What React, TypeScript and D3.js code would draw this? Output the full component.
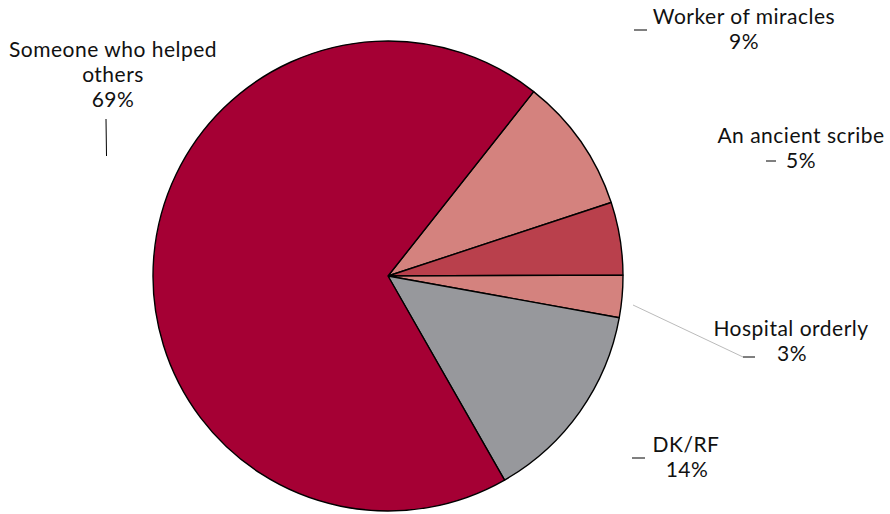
import React from "react";
import * as d3 from "d3";

const categories = ["Worker of miracles", "An ancient scribe", "Hospital orderly", "DK/RF", "Someone who helped others"];
const values = [9.3, 5.0, 2.9, 13.9, 68.9];
const percentLabels = ["9%", "5%", "3%", "14%", "69%"];
const colors = ["#d4827e", "#b9404c", "#d4827e", "#97989c", "#a50034"];

const W = 890;
const H = 514;
const cx = 388;
const cy = 276;
const R = 235;
const startDeg = 38.3;

const FONT = "Lato, 'Noto Sans', sans-serif";
const FS = 21;

export default function App() {
  const pie = d3
    .pie<number>()
    .sort(null)
    .value((d) => d)
    .startAngle((startDeg * Math.PI) / 180)
    .endAngle((startDeg * Math.PI) / 180 + 2 * Math.PI);
  const arcs = pie(values);
  const arc = d3.arc<d3.PieArcDatum<number>>().innerRadius(0).outerRadius(R);

  const textStyle: React.CSSProperties = { fontFamily: FONT, fontSize: FS, fill: "#111", letterSpacing: 0.5 };

  return (
    <svg width={W} height={H} style={{ position: "absolute", left: 0, top: 0 }}>
      <rect width={W} height={H} fill="#fff" />
      <g transform={`translate(${cx},${cy})`}>
        {arcs.map((a, i) => (
          <path key={i} d={arc(a) || ""} fill={colors[i]} stroke="#000" strokeWidth={1.4} strokeLinejoin="round" />
        ))}
      </g>
      {/* Someone who helped others */}
      <text x={113} y={57} textAnchor="middle" style={textStyle}>
        <tspan x={113} dy={0}>Someone who helped</tspan>
        <tspan x={113} dy={25}>others</tspan>
        <tspan x={113} dy={25}>{percentLabels[4]}</tspan>
      </text>
      <line x1={106} y1={119} x2={106.5} y2={156} stroke="#000" strokeWidth={1} />

      {/* Worker of miracles */}
      <line x1={634} y1={30} x2={647} y2={30} stroke="#000" strokeWidth={1} />
      <text x={744} y={24} textAnchor="middle" style={textStyle}>
        <tspan x={744} dy={0}>{categories[0]}</tspan>
        <tspan x={744} dy={25}>{percentLabels[0]}</tspan>
      </text>

      {/* An ancient scribe */}
      <text x={801} y={143} textAnchor="middle" style={textStyle}>
        {categories[1]}
      </text>
      <line x1={766} y1={161} x2={776} y2={161} stroke="#000" strokeWidth={1} />
      <text x={801} y={168} textAnchor="middle" style={textStyle}>
        {percentLabels[1]}
      </text>

      {/* Hospital orderly */}
      <line x1={633} y1={305} x2={743} y2={357} stroke="#bbb" strokeWidth={1} />
      <line x1={743} y1={357} x2={755} y2={357} stroke="#000" strokeWidth={1} />
      <text x={791} y={336} textAnchor="middle" style={textStyle}>
        {categories[2]}
      </text>
      <text x={792} y={361} textAnchor="middle" style={textStyle}>
        {percentLabels[2]}
      </text>

      {/* DK/RF */}
      <line x1={632} y1={458} x2={645} y2={458} stroke="#000" strokeWidth={1} />
      <text x={686} y={452} textAnchor="middle" style={textStyle}>
        {categories[3]}
      </text>
      <text x={687} y={477} textAnchor="middle" style={textStyle}>
        {percentLabels[3]}
      </text>
    </svg>
  );
}
